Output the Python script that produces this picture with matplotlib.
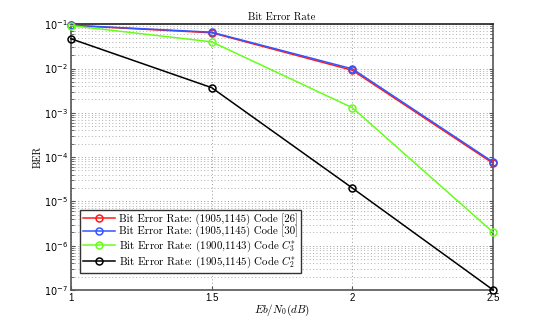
import numpy as np
import matplotlib
import matplotlib.pyplot as plt
from matplotlib.ticker import LogLocator, NullFormatter

matplotlib.use('agg')
plt.rcParams['mathtext.fontset'] = 'cm'
plt.rcParams['axes.unicode_minus'] = False

# Eb/N0 (dB)
ebn0 = [1, 1.5, 2, 2.5]
# BER curves
ber_26 = [0.094, 0.064, 0.0091, 7.2e-5]
ber_30 = [0.095, 0.066, 0.0098, 7.7e-5]
ber_c3 = [0.093, 0.040, 0.0013, 2.0e-6]
ber_c2 = [0.047, 0.0037, 2.0e-5, 1.0e-7]

labels = [r'Bit Error Rate: (1905,1145) Code [26]',
          r'Bit Error Rate: (1905,1145) Code [30]',
          r'Bit Error Rate: (1900,1143) Code $C_3^{*}$',
          r'Bit Error Rate: (1905,1145) Code $C_2^{*}$']
colors = ['#ff1a1a', '#3355ff', '#66ff1a', 'black']

serif = 'cmr10'
sans = ['Liberation Sans', 'DejaVu Sans']

fig = plt.figure(figsize=(5.45, 3.27), dpi=100)
ax = fig.add_axes([0.130, 0.113, 0.775, 0.813])

for y, c, lab in zip([ber_26, ber_30, ber_c3, ber_c2], colors, labels):
    ax.semilogy(ebn0, y, '-o', color=c, lw=1.1, ms=5, mfc='none', mew=1.1, label=lab, clip_on=False, zorder=3)

ax.set_xlim(1, 2.5)
ax.set_ylim(1e-7, 1e-1)
ax.set_xticks([1, 1.5, 2, 2.5])
ax.set_xticklabels(['1', '1.5', '2', '2.5'], family=sans, fontsize=7)
ax.yaxis.set_major_locator(LogLocator(base=10, numticks=10))
ax.yaxis.set_minor_locator(LogLocator(base=10, subs=np.arange(2, 10), numticks=20))
ax.yaxis.set_minor_formatter(NullFormatter())
for t in ax.get_yticklabels():
    t.set_fontsize(7)

ax.tick_params(direction='in', which='both', top=False, right=True, colors='#555555', labelcolor='black', length=3, pad=2)
ax.tick_params(which='minor', length=2)
dots = (0, (1, 2.5))
ax.grid(True, which='major', ls=dots, color='#999999', lw=0.7)
ax.yaxis.grid(True, which='minor', ls=dots, color='#b0b0b0', lw=0.7)
for s in ax.spines.values():
    s.set_color('#555555')
    s.set_linewidth(1.2)
ax.spines['top'].set_color('#222222')

ax.set_title('Bit Error Rate', family=serif, fontsize=7.5, pad=3)
ax.set_xlabel(r'$Eb/N_0(dB)$', fontsize=8, labelpad=0)
ax.set_ylabel('BER', family=serif, fontsize=7.5, labelpad=1)

leg = ax.legend(loc='lower left', bbox_to_anchor=(0.021, 0.064), prop={'family': serif, 'size': 7.8},
                fancybox=False, edgecolor='#333333', framealpha=1, handlelength=3.0,
                borderpad=0.3, labelspacing=0.08, handletextpad=0.3, borderaxespad=0)
leg.get_frame().set_linewidth(1.0)

fig.savefig('out.png', dpi=100)
